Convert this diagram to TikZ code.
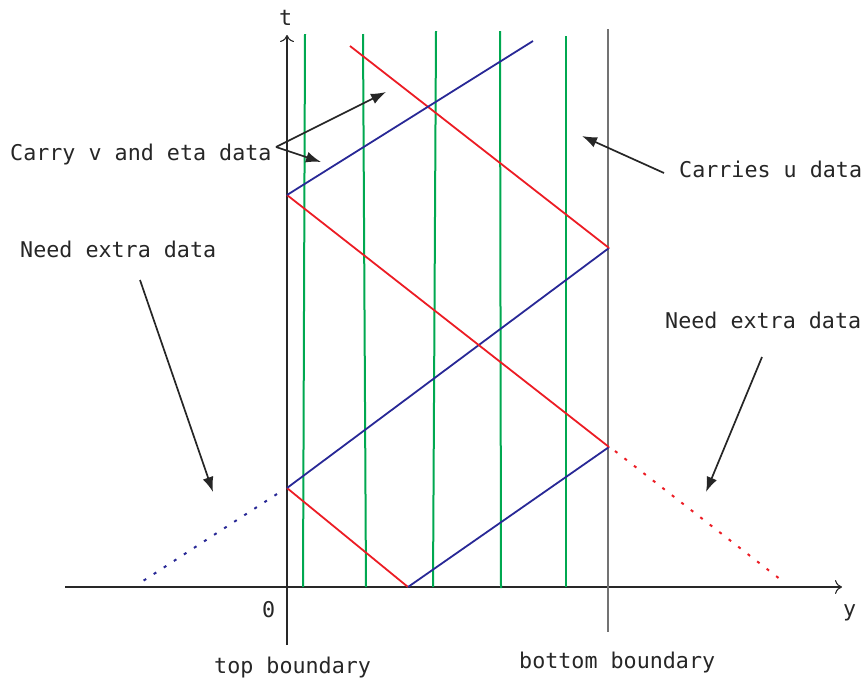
\documentclass[tikz,border=0pt]{standalone}
\usepackage{fontspec}
\setmonofont{DejaVu Sans Mono}
\usetikzlibrary{arrows.meta}
\definecolor{cgreen}{RGB}{0,168,80}
\definecolor{cred}{RGB}{236,28,36}
\definecolor{cblue}{RGB}{40,40,150}
\definecolor{caxis}{RGB}{40,40,40}
\tikzset{
  lbl/.style={inner sep=0pt, anchor=base west, font=\ttfamily\fontsize{21.7}{24}\selectfont, text=black!85},
  axisline/.style={draw=caxis, line width=1.1pt},
  bdry/.style={draw=black!55, line width=1.1pt},
  gline/.style={draw=cgreen, line width=2pt},
  rline/.style={draw=cred, line width=1.8pt},
  bline/.style={draw=cblue, line width=1.8pt},
  rdot/.style={draw=cred, line width=2pt, dash pattern=on 3pt off 9pt},
  bdot/.style={draw=cblue, line width=2pt, dash pattern=on 3pt off 9pt},
  pointer/.style={draw=black!85, line width=1.7pt, -{Latex[length=15pt,width=11pt]}},
  axarrow/.style={-{To[length=7pt,width=14pt,line width=1.1pt]}}
}
\begin{document}
\begin{tikzpicture}[x=1pt,y=-1pt]
\useasboundingbox (0,0) rectangle (865,681);
% axes
\coordinate (tbot) at (287,645);
\coordinate (ttop) at (287,35);
\coordinate (yl) at (65,587);
\coordinate (yr) at (842,587);
\coordinate (bb1) at (608,29);
\coordinate (bb2) at (608,632);
\draw[axisline,axarrow] (tbot) -- (ttop);
\draw[axisline,axarrow] (yl) -- (yr);
\draw[bdry] (bb1) -- (bb2);
% green lines
\coordinate (g1a) at (303,587); \coordinate (g1b) at (305,34);
\coordinate (g2a) at (366,587); \coordinate (g2b) at (363,34);
\coordinate (g3a) at (433,587); \coordinate (g3b) at (436,31);
\coordinate (g4a) at (501,588); \coordinate (g4b) at (500,31);
\coordinate (g5a) at (566,587); \coordinate (g5b) at (566,36);
\draw[gline] (g1a) -- (g1b);
\draw[gline] (g2a) -- (g2b);
\draw[gline] (g3a) -- (g3b);
\draw[gline] (g4a) -- (g4b);
\draw[gline] (g5a) -- (g5b);
% characteristics
\coordinate (p0) at (408,587);
\coordinate (pL1) at (287,488);
\coordinate (pR1) at (609,447);
\coordinate (pR2) at (609,248);
\coordinate (pL2) at (287,195);
\coordinate (rTop) at (350,46);
\coordinate (bTop) at (533,41);
\coordinate (rEnd) at (785,583);
\coordinate (bEnd) at (143,581);
\draw[rline] (p0) -- (pL1);
\draw[bline] (pL1) -- (pR2);
\draw[rline] (pR2) -- (rTop);
\draw[bline] (p0) -- (pR1);
\draw[rline] (pR1) -- (pL2);
\draw[bline] (pL2) -- (bTop);
\draw[rdot] (pR1) ++(6,4) -- (rEnd);
\draw[bdot] (pL1) ++(-10,6) -- (bEnd);
% labels
\node[lbl] (lt) at (279,25) {t};
\node[lbl] (ly) at (843,616) {y};
\node[lbl] (l0) at (262,617) {0};
\node[lbl] (ltop) at (214,673) {top boundary};
\node[lbl] (lbot) at (519,668) {bottom boundary};
\node[lbl] (lcarry) at (10,160) {Carry v and eta data};
\node[lbl] (lu) at (679,177) {Carries u data};
\node[lbl] (lneedL) at (20,257) {Need extra data};
\node[lbl] (lneedR) at (665,328) {Need extra data};
% pointers
\coordinate (cs) at (276,147);
\coordinate (ct1) at (386,92);
\coordinate (ct2) at (321,162);
\coordinate (us) at (664,173);
\coordinate (ut) at (582,136);
\coordinate (ns1) at (140,280);
\coordinate (nt1) at (213,492);
\coordinate (ns2) at (762,357);
\coordinate (nt2) at (706,492);
\draw[pointer] (cs) -- (ct1);
\draw[pointer] (cs) -- (ct2);
\draw[pointer] (us) -- (ut);
\draw[pointer] (ns1) -- (nt1);
\draw[pointer] (ns2) -- (nt2);
\end{tikzpicture}
\end{document}
